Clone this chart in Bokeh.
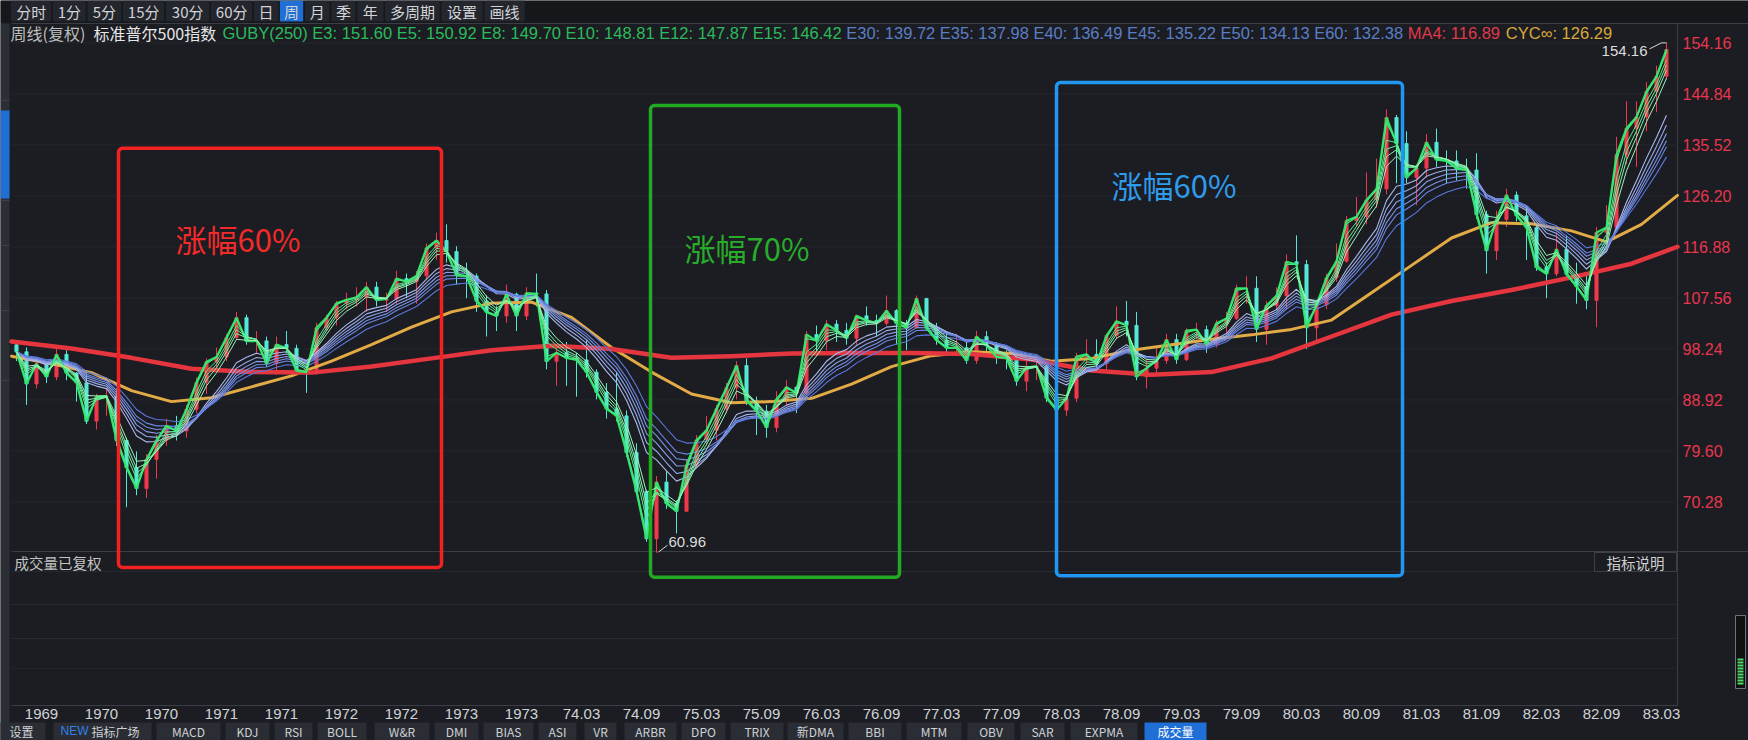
import numpy as np
from bokeh.plotting import figure
from bokeh.models import Range1d, BoxAnnotation
from bokeh.embed import file_html
from bokeh.resources import INLINE
from bokeh.core.properties import value

# ======================= DATA =======================
first_month = (1969, 6)      # first bar shown
first_open = 99.0
close = [
    97.71, 91.83, 95.51, 93.12, 97.24, 93.81, 92.06,
    85.02, 89.50, 89.63, 81.52, 76.55, 72.72, 78.05, 81.52, 84.21, 83.25, 87.20, 92.15,
    95.88, 96.75, 100.31, 103.95, 99.63, 99.70, 95.58, 99.03, 98.34, 94.23, 93.99, 102.09,
    103.94, 106.57, 107.20, 107.67, 109.53, 107.14, 107.39, 111.09, 110.55, 111.58, 116.67, 118.05,
    116.03, 111.68, 111.52, 106.97, 104.95, 104.26, 108.22, 104.25, 108.43, 108.29, 95.96, 97.55,
    96.57, 96.22, 93.98, 90.31, 87.28, 86.00, 79.31, 72.15, 63.54, 73.90, 69.97, 68.56,
    76.98, 81.59, 83.36, 87.30, 91.15, 95.19, 88.75, 86.88, 83.87, 89.04, 91.24, 90.19,
    100.86, 99.71, 102.77, 101.64, 100.18, 104.28, 103.44, 102.91, 105.24, 102.90, 102.10, 107.46,
    102.03, 99.82, 98.42, 98.44, 96.12, 100.48, 98.85, 96.77, 96.53, 92.34, 94.83, 95.10,
    89.25, 87.04, 89.21, 96.83, 97.24, 95.53, 100.68, 103.29, 102.54, 93.15, 94.70, 96.11,
    99.93, 96.28, 101.59, 101.76, 99.08, 102.91, 103.81, 109.32, 109.32, 101.82, 106.16, 107.94,
    114.16, 113.66, 102.09, 106.29, 111.24, 114.24, 121.67, 122.38, 125.46, 127.47, 140.52, 135.76,
    129.55, 131.27, 136.00, 132.81, 132.59, 131.21, 130.92, 122.79, 116.18, 121.89, 126.35, 122.55,
    120.40, 113.11, 111.96, 116.44, 111.88, 109.61, 107.09, 119.51, 120.42, 133.71, 138.54, 140.64,
    145.30, 148.06, 152.96,
]
high = [
    99.5, 98.5, 96.5, 96.0, 98.5, 98.0, 94.0,
    94.0, 90.0, 91.0, 91.0, 82.0, 79.5, 79.0, 82.5, 85.5, 86.0, 88.0, 93.0,
    96.5, 98.5, 101.0, 105.0, 104.5, 101.5, 100.5, 100.5, 101.5, 99.0, 95.0, 103.0,
    104.5, 107.0, 108.5, 109.5, 110.5, 110.5, 108.5, 112.5, 112.0, 112.5, 117.5, 119.5,
    121.0, 117.0, 114.0, 112.0, 108.0, 106.0, 110.0, 108.5, 109.5, 112.0, 109.0, 98.5,
    99.5, 97.5, 100.0, 94.5, 92.0, 94.0, 87.0, 81.0, 72.5, 75.0, 76.0, 70.5,
    78.0, 82.5, 86.0, 88.0, 92.0, 96.0, 96.5, 89.5, 88.0, 90.5, 92.5, 91.5,
    101.5, 102.5, 103.5, 103.5, 103.0, 104.5, 106.0, 104.5, 108.0, 105.5, 103.5, 108.0,
    107.5, 103.0, 101.5, 101.0, 100.0, 101.5, 101.5, 99.5, 98.0, 97.5, 96.5, 96.0,
    95.5, 90.5, 90.0, 97.5, 100.0, 100.0, 101.0, 106.0, 107.0, 105.0, 96.5, 98.5,
    101.0, 101.0, 102.0, 103.0, 102.5, 103.5, 105.0, 110.0, 111.5, 111.5, 107.0, 109.5,
    115.5, 119.0, 114.5, 107.0, 112.0, 117.5, 122.5, 126.0, 130.5, 133.0, 142.0, 141.0,
    138.0, 132.0, 137.5, 138.5, 134.5, 134.5, 133.0, 134.0, 123.5, 123.5, 127.5, 127.0,
    124.5, 121.0, 114.0, 119.5, 119.0, 114.0, 112.0, 120.5, 124.5, 137.0, 143.5, 143.5,
    147.0, 150.0, 154.16,
]
low = [
    96.0, 88.0, 91.0, 92.0, 92.5, 92.5, 88.6,
    84.5, 83.5, 86.0, 80.5, 69.3, 71.5, 71.0, 74.5, 80.5, 81.5, 82.0, 86.5,
    90.0, 94.5, 96.0, 100.0, 99.0, 97.5, 95.0, 93.5, 97.5, 93.5, 90.2, 93.5,
    101.5, 102.5, 105.5, 106.0, 105.0, 106.0, 105.0, 106.5, 107.5, 106.5, 111.0, 114.5,
    114.0, 110.0, 107.5, 105.0, 100.5, 101.5, 103.0, 101.5, 103.5, 106.0, 94.5, 91.5,
    91.5, 89.5, 93.0, 89.0, 85.5, 85.0, 78.5, 71.5, 63.0, 60.96, 69.0, 64.5,
    68.5, 76.5, 80.5, 81.5, 86.5, 89.0, 88.0, 82.5, 82.0, 83.0, 88.0, 86.5,
    90.0, 97.0, 98.0, 99.5, 99.0, 99.0, 102.5, 100.5, 102.5, 99.0, 98.0, 102.0,
    101.5, 99.0, 97.5, 97.0, 95.5, 95.5, 97.5, 95.5, 94.5, 91.5, 90.5, 92.5,
    88.5, 86.5, 86.0, 88.5, 95.5, 94.5, 94.0, 100.0, 100.5, 92.5, 91.0, 93.5,
    95.5, 95.5, 96.0, 100.0, 97.5, 98.5, 101.0, 103.5, 106.5, 99.5, 99.0, 105.5,
    105.5, 112.0, 98.2, 99.5, 105.5, 110.5, 114.0, 120.5, 121.0, 124.0, 126.5, 128.5,
    128.5, 124.5, 129.5, 131.5, 128.5, 129.0, 127.5, 122.0, 112.0, 114.5, 120.5, 121.5,
    114.5, 112.5, 107.5, 111.5, 111.0, 106.5, 105.5, 102.2, 117.0, 120.0, 132.0, 131.5,
    138.0, 141.5, 147.5,
]

green_periods = [3, 5, 8, 10, 12, 15]          # weeks
blue_periods = [30, 35, 40, 45, 50, 60]        # weeks
green_readout = [151.60, 150.92, 149.70, 148.81, 147.87, 146.42]
blue_readout = [139.72, 137.98, 136.49, 135.22, 134.13, 132.38]
ma4_readout = 116.89
cyc_readout = 126.29

# long lines (x = month index from Jan 1969)
ma4_month = [5, 11, 17, 23, 29, 35, 41, 47, 53, 59, 65, 71, 77, 83, 89, 95, 101, 107,
             113, 119, 125, 131, 137, 143, 149, 155, 161, 167, 171.6]
ma4_value = [99.6, 98.3, 96.6, 94.6, 94.0, 93.9, 95.0, 96.5, 98.0, 98.8, 98.2, 96.6, 96.9,
             97.4, 97.5, 97.5, 97.3, 96.3, 94.3, 93.5, 94.0, 96.5, 100.5, 104.5, 107.0,
             109.0, 111.3, 113.8, 116.9]
cyc_month = [5, 9, 13, 17, 21, 25, 29, 33, 37, 41, 45, 49, 53, 57, 61, 65, 69, 73, 77, 81,
             85, 89, 93, 97, 101, 105, 109, 113, 117, 121, 125, 129, 133, 137, 141, 145, 149,
             153, 157, 161, 164.5, 168, 171.6]
cyc_value = [96.9, 95.5, 93.9, 90.6, 88.6, 89.3, 91.3, 93.3, 96.0, 99.0, 102.2, 105.0, 106.6,
             106.8, 104.0, 98.5, 94.0, 90.0, 88.4, 88.6, 89.2, 91.8, 95.0, 97.0, 97.7, 97.4,
             96.0, 96.5, 98.0, 99.0, 100.0, 100.8, 101.8, 103.5, 108.5, 113.5, 118.5, 121.3,
             121.1, 119.8, 117.8, 121.0, 126.3]

price_ticks = [154.16, 144.84, 135.52, 126.20, 116.88, 107.56, 98.24, 88.92, 79.60, 70.28]
date_labels = ["1969", "1970", "1970", "1971", "1971", "1972", "1972", "1973", "1973",
               "74.03", "74.09", "75.03", "75.09", "76.03", "76.09", "77.03", "77.09",
               "78.03", "78.09", "79.03", "79.09", "80.03", "80.09", "81.03", "81.09",
               "82.03", "82.09", "83.03"]

# highlighted zones (months / price)
zone_start = [15.7, 68.9, 109.5]
zone_end = [48.0, 93.8, 144.1]
zone_low = [58.3, 56.5, 56.8]
zone_high = [134.9, 142.7, 146.9]
zone_text = ["涨幅60%", "涨幅70%", "涨幅60%"]

toolbar_items = ["分时", "1分", "5分", "15分", "30分", "60分", "日", "周", "月", "季", "年",
                 "多周期", "设置", "画线"]
tab_items = ["设置", "NEW指标广场", "MACD", "KDJ", "RSI", "BOLL", "W&R", "DMI", "BIAS", "ASI",
             "VR", "ARBR", "DPO", "TRIX", "新DMA", "BBI", "MTM", "OBV", "SAR", "EXPMA", "成交量"]

# ======================= LAYOUT / STYLE =======================
W, H = 1748, 740
BG = "#1b1d22"
PX_PER_MONTH = 10.0
CHART_L, CHART_R = 11, 1677
MAIN_T, MAIN_B, VOL_B = 23, 551, 705
M_AT_L = 5.0
PRICE_TOP = 157.70
PX_PER_PRICE = 51.0 / 9.32
M_AT_R = M_AT_L + (CHART_R - CHART_L) / PX_PER_MONTH

zone_text_x = [21.4, 72.3, 115.0]
zone_text_y = [118.4, 116.8, 128.3]
zone_line = ["#f32222", "#22aa22", "#2196f3"]
zone_font = ["#f22a2a", "#28ac2a", "#2f9bec"]

toolbar_bounds = [9.6, 51.7, 86, 121.7, 164.6, 209.7, 252.6, 278.6, 303.5, 329.9, 355.9,
                  383.8, 440, 483, 525]
tab_left = [-4, 52, 155, 224, 273, 316, 373, 433, 482, 537, 583, 623, 680, 729, 786, 847,
            905, 966, 1019, 1069, 1143]
tab_right = [46, 152, 221, 270, 313, 367, 430, 479, 534, 577, 617, 677, 726, 784, 844, 902,
             962, 1015, 1065, 1138, 1207]
TAB_TOP, TAB_TEXT_Y = 722, 730.5
DATE_Y = 713

x_range = Range1d(M_AT_L - CHART_L / PX_PER_MONTH, M_AT_L + (W - CHART_L) / PX_PER_MONTH)
y_range = Range1d(PRICE_TOP - (H - MAIN_T) / PX_PER_PRICE, PRICE_TOP + MAIN_T / PX_PER_PRICE)

p = figure(width=W, height=H, x_range=x_range, y_range=y_range,
           x_axis_location=None, y_axis_location=None, toolbar_location=None,
           output_backend="svg", min_border=0, outline_line_color=None,
           background_fill_color=BG, border_fill_color=BG)
p.grid.visible = False
p.extra_x_ranges = {"px": Range1d(0, W)}
p.extra_y_ranges = {"py": Range1d(H, 0)}
PXY = dict(x_range_name="px", y_range_name="py")

LAT = value("Liberation Sans")
CJK = value("Noto Sans CJK SC")

# ---------------- chrome: left strip, toolbar ----------------
p.quad(left=[0], right=[9], top=[23], bottom=[H], fill_color="#2b2e34", line_color=None, **PXY)
p.segment(x0=[0] * 5, x1=[9] * 5, y0=[100, 200, 245, 310, 380], y1=[100, 200, 245, 310, 380],
          line_color="#3c3f46", line_width=1, **PXY)
p.quad(left=[0], right=[9], top=[110], bottom=[198], fill_color="#1f6fd6", line_color=None, **PXY)
p.quad(left=[0], right=[W], top=[0], bottom=[22], fill_color="#15171b", line_color=None, **PXY)
tb_l = [toolbar_bounds[i] + 0.8 for i in range(len(toolbar_items))]
tb_r = [toolbar_bounds[i + 1] - 0.8 for i in range(len(toolbar_items))]
tb_fill = ["#1f6fd6" if t == "周" else "#23262c" for t in toolbar_items]
p.quad(left=tb_l, right=tb_r, top=[0] * len(tb_l), bottom=[21] * len(tb_l),
       fill_color=tb_fill, line_color=None, **PXY)
p.text(x=[(a + b) / 2 for a, b in zip(tb_l, tb_r)], y=[11] * len(tb_l), text=toolbar_items,
       text_font=CJK, text_font_size="15px", text_color="#d2d4d8",
       text_align="center", text_baseline="middle", **PXY)

# ---------------- frame lines / grids ----------------
p.segment(x0=[CHART_L, CHART_L, CHART_L], x1=[W, W, CHART_R], y0=[MAIN_T, MAIN_B, VOL_B],
          y1=[MAIN_T, MAIN_B, VOL_B], line_color="#3a3d44", line_width=1, **PXY)
p.segment(x0=[CHART_R], x1=[CHART_R], y0=[MAIN_T], y1=[VOL_B], line_color="#3a3d44", line_width=1, **PXY)
p.segment(x0=[M_AT_L] * len(price_ticks), x1=[M_AT_R] * len(price_ticks),
          y0=price_ticks, y1=price_ticks, line_color="#24272d", line_width=1)
vol_grid = [571, 604, 638]
p.segment(x0=[CHART_L] * 3, x1=[CHART_R] * 3, y0=vol_grid, y1=vol_grid,
          line_color="#262a30", line_width=1, **PXY)
p.segment(x0=[CHART_L], x1=[CHART_R], y0=[668], y1=[668],
          line_color="#2a2d33", line_width=1, line_dash="2 2", **PXY)

# ---------------- candles ----------------
n = len(close)
m0 = (first_month[0] - 1969) * 12 + (first_month[1] - 1)
xm = [m0 + k + 0.5 for k in range(n)]
opens = [first_open] + close[:-1]
hi = [max(h, o, c) for h, o, c in zip(high, opens, close)]
lo = [min(l, o, c) for l, o, c in zip(low, opens, close)]
up = [c >= o for o, c in zip(opens, close)]
ccol = ["#f0384c" if u else "#55e8d6" for u in up]
p.segment(x0=xm, x1=xm, y0=lo, y1=hi, line_color=ccol, line_width=1)
p.vbar(x=xm, width=0.32, top=[max(o, c) for o, c in zip(opens, close)],
       bottom=[min(o, c) for o, c in zip(opens, close)], fill_color=ccol, line_color=ccol,
       line_width=0.8)


# ---------------- EMA ribbons ----------------
def ema(vals, weeks):
    nm = weeks * 12.0 / 52.0
    a = min(1.0, 2.0 / (nm + 1.0))
    out, e = [], vals[0]
    for v in vals:
        e = e + a * (v - e)
        out.append(e)
    return out


p.line(cyc_month, cyc_value, line_color="#e2ab45", line_width=3, line_join="round", line_cap="round")
p.line(ma4_month, ma4_value, line_color="#e5353f", line_width=4.5, line_join="round", line_cap="round")

blue_cols = ["#aab9f0", "#9aaced", "#8a9fea", "#7a92e6", "#6a85e2", "#5a78dd"]
for per, col in zip(blue_periods, blue_cols):
    p.line(xm, ema(close, per), line_color=col, line_width=1.1)
green_cols = ["#2ee266", "#3fe877", "#55ec88", "#6cef99", "#84f2aa", "#9cf4bb"]
green_w = [2.2, 1.2, 1.0, 1.0, 1.0, 1.0]
for per, col, lw in zip(green_periods, green_cols, green_w):
    p.line(xm, ema(close, per), line_color=col, line_width=lw)

# ---------------- extreme labels ----------------
i_max = int(np.argmax(hi))
i_min = int(np.argmin(lo))
mx, hv = xm[i_max], hi[i_max]
mn, lv = xm[i_min], lo[i_min]
p.segment(x0=[mx - 1.7, mx - 0.5], x1=[mx - 0.5, mx], y0=[hv - 1.1, hv], y1=[hv, hv],
          line_color="#d8d8d8", line_width=1)
p.text(x=[mx - 1.9], y=[hv - 1.4], text=["%.2f" % hv], text_font=LAT, text_font_size="15px",
       text_color="#dcdcdc", text_align="right", text_baseline="middle")
p.segment(x0=[mn + 0.2], x1=[mn + 1.1], y0=[lv + 0.15], y1=[lv + 1.4], line_color="#d8d8d8", line_width=1)
p.text(x=[mn + 1.2], y=[lv + 1.9], text=["%.2f" % lv], text_font=LAT, text_font_size="15px",
       text_color="#dcdcdc", text_align="left", text_baseline="middle")

# ---------------- highlight zones ----------------
for s, e, l, h, c in zip(zone_start, zone_end, zone_low, zone_high, zone_line):
    p.add_layout(BoxAnnotation(left=s, right=e, bottom=l, top=h, fill_alpha=0, line_color=c,
                               line_alpha=1.0, line_width=3.5, border_radius=4))
p.text(x=zone_text_x, y=zone_text_y, text=zone_text, text_font=CJK, text_font_size="31px",
       text_color=zone_font, text_align="left", text_baseline="middle")

# ---------------- header line ----------------
ARIAL = {'.': 278, ':': 278, ' ': 278, 'E': 667, 'G': 778, 'U': 722, 'B': 667, 'Y': 667,
         '(': 333, ')': 333, 'M': 833, 'A': 667, 'C': 722, '∞': 713}


def tw(s, size):
    return sum(ARIAL.get(ch, 556) for ch in s) * size / 1000.0


HF = 16.5
green_txt = "GUBY(250) " + " ".join("E%d: %.2f" % (a, b) for a, b in zip(green_periods, green_readout))
blue_txt = " ".join("E%d: %.2f" % (a, b) for a, b in zip(blue_periods, blue_readout))
ma_txt = "MA4: %.2f" % ma4_readout
cyc_txt = "CYC∞: %.2f" % cyc_readout
segs = [green_txt, blue_txt, ma_txt, cyc_txt]
seg_cols = ["#2cbb5c", "#5a7dc6", "#e0394b", "#d8a93c"]
xs, x = [], 222.0
for s in segs:
    xs.append(x)
    x += tw(s + " ", HF)
p.text(x=xs, y=[32] * 4, text=segs, text_font=LAT, text_font_size="%.1fpx" % HF,
       text_color=seg_cols, text_align="left", text_baseline="middle", **PXY)
p.text(x=[10, 93], y=[32, 32], text=["周线(复权)", "标准普尔500指数"], text_font=CJK,
       text_font_size="16px", text_color=["#bdbdbd", "#e6e6e6"], text_align="left",
       text_baseline="middle", **PXY)

# ---------------- price axis labels (right) ----------------
p.text(x=[CHART_R + 5] * len(price_ticks), y=price_ticks, text=["%.2f" % v for v in price_ticks],
       text_font=LAT, text_font_size="16px", text_color="#e8364e", text_align="left",
       text_baseline="middle", x_range_name="px")

# ---------------- date axis labels ----------------
date_ticks = [8 + 6 * i for i in range(len(date_labels))]
p.text(x=date_ticks, y=[DATE_Y] * len(date_ticks), text=date_labels, text_font=LAT,
       text_font_size="15px", text_color="#cfd3d8", text_align="center", text_baseline="middle",
       y_range_name="py")

# ---------------- volume pane chrome ----------------
p.text(x=[14], y=[562], text=["成交量已复权"], text_font=CJK, text_font_size="14.5px",
       text_color="#c4c4c4", text_align="left", text_baseline="middle", **PXY)
p.quad(left=[1594], right=[1676], top=[552], bottom=[571], fill_color=BG, line_color="#3d4047", **PXY)
p.text(x=[1635], y=[561.5], text=["指标说明"], text_font=CJK, text_font_size="14.5px",
       text_color="#d0d0d0", text_align="center", text_baseline="middle", **PXY)
# scrollbar
p.quad(left=[1735], right=[1745], top=[615], bottom=[688], fill_color="#101113",
       line_color="#707378", line_width=1, **PXY)
bar_y = [659 + 3 * i for i in range(9)]
p.segment(x0=[1737] * 9, x1=[1743] * 9, y0=bar_y, y1=bar_y, line_color="#4cd964", line_width=2, **PXY)

# ---------------- bottom tabs ----------------
tab_fill = ["#1f6fd6" if t == "成交量" else "#2a2d34" for t in tab_items]
p.quad(left=[l + 1 for l in tab_left], right=[r - 1 for r in tab_right], top=[TAB_TOP] * len(tab_items),
       bottom=[H + 5] * len(tab_items), fill_color=tab_fill, line_color=None, **PXY)
plain = [(t, (l + r) / 2) for t, l, r in zip(tab_items, tab_left, tab_right) if t != "NEW指标广场"]
p.text(x=[c for _, c in plain], y=[TAB_TEXT_Y] * len(plain), text=[t for t, _ in plain], text_font=CJK,
       text_font_size="12px", text_color=["#ffffff" if t == "成交量" else "#cfd2d6" for t, _ in plain],
       text_align="center", text_baseline="middle", **PXY)
p.text(x=[60], y=[TAB_TEXT_Y], text=["NEW"], text_font=LAT, text_font_size="12px", text_color="#2f80ea",
       text_align="left", text_baseline="middle", **PXY)
p.text(x=[91], y=[TAB_TEXT_Y], text=["指标广场"], text_font=CJK, text_font_size="12px", text_color="#cfd2d6",
       text_align="left", text_baseline="middle", **PXY)

open("out.html", "w").write(file_html(p, INLINE))
